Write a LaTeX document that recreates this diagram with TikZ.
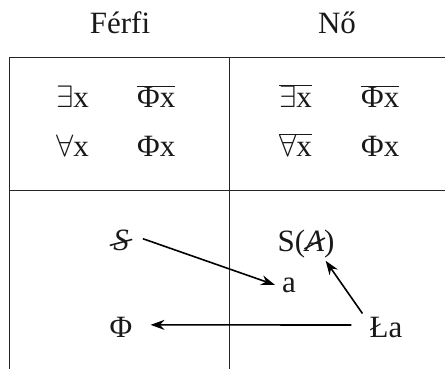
\documentclass[tikz,border=0pt]{standalone}
\usepackage{fix-cm}
\usepackage{fontspec}
\setmainfont{Liberation Serif}
\usetikzlibrary{arrows.meta}
\newcommand\strk[2][22]{\ooalign{#2\cr\hidewidth\raisebox{0.22em}{\rotatebox[origin=c]{#1}{\rule{0.75em}{0.05em}}}\hidewidth\cr}}
\begin{document}
\begin{tikzpicture}[x=1pt,y=-1pt,
  every node/.style={font=\fontsize{31}{36}\selectfont,text=black!90},
  cell/.style={inner sep=0pt,anchor=base west},
  lbl/.style={inner sep=4pt,anchor=base},
  grid/.style={line width=1pt,draw=black!85},
  arr/.style={line width=1.6pt,-{Stealth[length=14pt,width=10pt]}}]
\useasboundingbox (0,0) rectangle (445,369);
% table lines
\draw[grid] (445,57.5) -- (9.5,57.5) -- (9.5,369);
\draw[grid] (229,57.5) -- (229,369);
\draw[grid] (9.5,190) -- (445,190);
% headers
\node[lbl] (ferfi) at (120,34) {Férfi};
\node[lbl] (no) at (337,34) {Nő};
% upper cells
\node[cell] (e1) at (56,108) {$\exists$x};
\node[cell] (p1) at (137,108) {$\overline{\hbox{Φx}}$};
\node[cell] (a1) at (56,157) {$\forall$x};
\node[cell] (p2) at (137,157) {Φx};
\node[cell] (e2) at (279,108) {$\overline{\exists\hbox{x}}$};
\node[cell] (p3) at (361,108) {$\overline{\hbox{Φx}}$};
\node[cell] (a2) at (279,157) {$\overline{\forall\hbox{x}}$};
\node[cell] (p4) at (361,157) {Φx};
% lower cells
\node[lbl] (S) at (121,250) {\strk[15]{\textit{S}}};
\node[lbl] (SA) at (306,251) {S(\strk[28]{\textit{A}})};
\node[lbl] (a) at (289,292) {a};
\node[lbl] (Phi) at (121,337) {Φ};
\node[lbl] (La) at (386,337) {Ła};
% arrows
\draw[arr] ([xshift=10pt,yshift=1pt]S.east) -- ([xshift=-3pt]a.west);
\draw[arr] ([xshift=-14pt,yshift=2pt]La.west) -- ([xshift=14pt,yshift=2pt]Phi.east);
\draw[arr] ([xshift=-3pt,yshift=-1pt]La.north west) -- ([xshift=-13pt,yshift=1pt]SA.south east);
\end{tikzpicture}
\end{document}
